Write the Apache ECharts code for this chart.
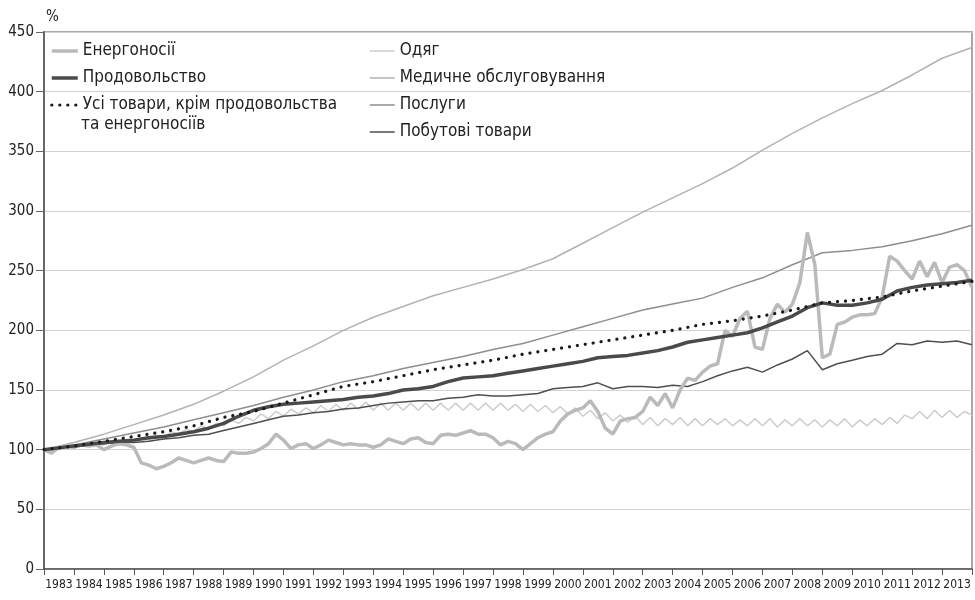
<!DOCTYPE html>
<html><head><meta charset="utf-8">
<script src="https://cdn.jsdelivr.net/npm/echarts@6/dist/echarts.min.js"></script>
<style>html,body{margin:0;padding:0;background:#fff}#c{width:975px;height:600px}</style>
</head><body><div id="c"></div>
<script>
// ---- data ----
const startYear = 1983;
const yearLabels = ['1983','1984','1985','1986','1987','1988','1989','1990','1991','1992','1993','1994','1995','1996','1997','1998','1999','2000','2001','2002','2003','2004','2005','2006','2007','2008','2009','2010','2011','2012','2013'];

// quarterly samples (Jan, Apr, Jul, Oct) from 1983 to Jan 2014
const energy = [
 100,97,102,103, 102,104,103,104, 100,103,105,104, 102,89,87,84, 86,89,93,91,
 89,91,93,91, 90,98,97,97, 98,101,105,113, 108,101,104,105, 101,104,108,106,
 104,105,104,104, 102,104,109,107, 105,109,110,106, 105,112,113,112, 114,116,113,113,
 110,104,107,105, 100,105,110,113, 115,124,130,133, 135,141,132,118, 113,124,126,127,
 132,144,137,147, 135,150,160,158, 165,170,172,200, 195,210,216,186, 184,210,222,215,
 222,240,282,255, 177,180,205,207, 211,213,213,214, 228,262,258,250, 243,258,245,257,
 240,253,255,250, 236];
const clothing = [
 100,102,101,103, 102,104,103,105, 104,107,105,108, 106,110,108,112, 110,115,113,117,
 115,120,117,122, 120,125,122,127, 124,130,126,132, 128,134,130,135, 131,137,132,138,
 133,139,134,140, 133,139,133,139, 133,139,133,139, 133,139,133,139, 133,139,133,139,
 133,139,133,138, 132,138,132,137, 131,136,130,135, 128,133,126,131, 124,129,123,128,
 121,127,120,126, 121,127,120,126, 120,126,121,126, 120,125,120,126, 120,126,119,125,
 120,126,120,125, 119,125,120,126, 119,125,120,126, 121,127,122,129, 126,132,126,133,
 127,133,127,132, 129];
// half-yearly samples (Jan, Jul) from 1983 to Jan 2014
const food = [
 100,101.5, 103,104.5, 106,107, 108,110, 111,113, 115,118, 122,128, 133,136, 138,139, 140,141,
 142,144, 145,147, 150,151, 153,157, 160,161, 162,164, 166,168, 170,172, 174,177, 178,179,
 181,183, 186,190, 192,194, 196,198, 202,207, 212,219, 223,221, 221,223, 226,233, 236,238,
 239,240, 242];
const household = [
 100,102, 103,104, 105,106, 106,107, 109,110, 112,113, 116,119, 122,125, 128,129, 131,132,
 134,135, 137,139, 140,141, 141,143, 144,146, 145,145, 146,147, 151,152, 153,156, 151,153,
 153,152, 154,153, 157,162, 166,169, 165,171, 176,183, 167,172, 175,178, 180,189, 188,191,
 190,191, 188];
// yearly samples (Jan) from 1983 to 2014
const medical = [100,106,113,121,129,138,149,161,175,187,200,211,220,229,236,243,251,260,273,286,299,311,323,336,351,365,378,390,401,414,428,437];
const services = [100,104,109,114,119,125,131,137,144,150,157,162,168,173,178,184,189,196,203,210,217,222,227,236,244,255,265,267,270,275,281,288];
const core = [100,103,107,111,115,120,127,132,139,146,153,157,162,167,171,175,180,184,188,192,196,200,205,208,212,217,223,225,228,233,237,241];

const names = {
  energy: 'Енергоносії',
  food: 'Продовольство',
  core: 'Усі товари, крім продовольства та енергоносіїв',
  clothing: 'Одяг',
  medical: 'Медичне обслуговування',
  services: 'Послуги',
  household: 'Побутові товари'
};

function pairs(arr, perYear) { return arr.map((v, i) => [startYear + i / perYear, v]); }

const FONT = "'Liberation Sans Narrow','DejaVu Sans Condensed','Arial Narrow',sans-serif";

function line(name, data, color, width, extra) {
  return Object.assign({
    name: name, type: 'line', data: data, xAxisIndex: 0, yAxisIndex: 0,
    showSymbol: false, symbol: 'none', silent: true, animation: false,
    lineStyle: { color: color, width: width },
    itemStyle: { color: color },
    emphasis: { disabled: true }
  }, extra || {});
}

const legendCommon = {
  orient: 'vertical', top: 42, padding: 0, itemGap: 9, itemHeight: 14,
  selectedMode: false,
  lineStyle: { width: 'inherit' },
  itemStyle: { opacity: 0, borderWidth: 0 },
  textStyle: { fontSize: 17, lineHeight: 18, color: '#222', fontFamily: FONT }
};

const chart = echarts.init(document.getElementById('c'), null, { renderer: 'canvas' });
chart.setOption({
  animation: false,
  backgroundColor: '#fff',
  grid: { left: 44, right: 3, top: 32, bottom: 31, show: true, borderColor: '#8c8c8c', borderWidth: 1.5 },
  xAxis: [
    { type: 'value', min: 1983, max: 2014, show: false },
    { type: 'category', data: yearLabels, position: 'bottom', boundaryGap: true,
      axisLine: { show: true, lineStyle: { color: '#555', width: 1.5 } },
      axisTick: { show: true, interval: 0, length: 6, lineStyle: { color: '#555', width: 1 } },
      axisLabel: { interval: 0, fontSize: 12, color: '#222', margin: 10, fontFamily: FONT },
      splitLine: { show: false } }
  ],
  yAxis: {
    type: 'value', min: 0, max: 450, interval: 50,
    name: '%', nameLocation: 'end', nameGap: 7,
    nameTextStyle: { fontSize: 15, color: '#222', fontFamily: FONT, align: 'left', verticalAlign: 'bottom', padding: [0, 0, 0, 2] },
    axisLine: { show: true, lineStyle: { color: '#666', width: 2 } },
    axisTick: { show: true, length: 8, lineStyle: { color: '#666', width: 1 } },
    axisLabel: { fontSize: 15, color: '#222', margin: 10, fontFamily: FONT },
    splitLine: { show: true, lineStyle: { color: '#d2d2d2', width: 1 } }
  },
  legend: [
    Object.assign({}, legendCommon, { left: 50, itemWidth: 26,
      data: [names.energy, names.food, names.core],
      formatter: n => n === names.core ? 'Усі товари, крім продовольства' : n }),
    Object.assign({}, legendCommon, { left: 369, itemWidth: 25,
      data: [names.clothing, names.medical, names.services, names.household] })
  ],
  graphic: [
    { type: 'text', left: 81, top: 116, silent: true,
      style: { text: 'та енергоносіїв', fontSize: 17, fontFamily: FONT, fill: '#222' } }
  ],
  series: [
    line(names.clothing, pairs(clothing, 4), '#cdcdcd', 1.5),
    line(names.medical, pairs(medical, 1), '#b2b2b2', 1.5),
    line(names.services, pairs(services, 1), '#8e8e8e', 1.5),
    line(names.household, pairs(household, 2), '#4f4f4f', 1.5),
    line(names.energy, pairs(energy, 4), '#bababa', 3.5),
    line(names.food, pairs(food, 2), '#4a4a4a', 3.5),
    line(names.core, pairs(core, 1), '#1a1a1a', 3, { lineStyle: { color: '#1a1a1a', width: 3.2, type: [0.1, 7.9], cap: 'round' } })
  ]
});
</script>
</body></html>
